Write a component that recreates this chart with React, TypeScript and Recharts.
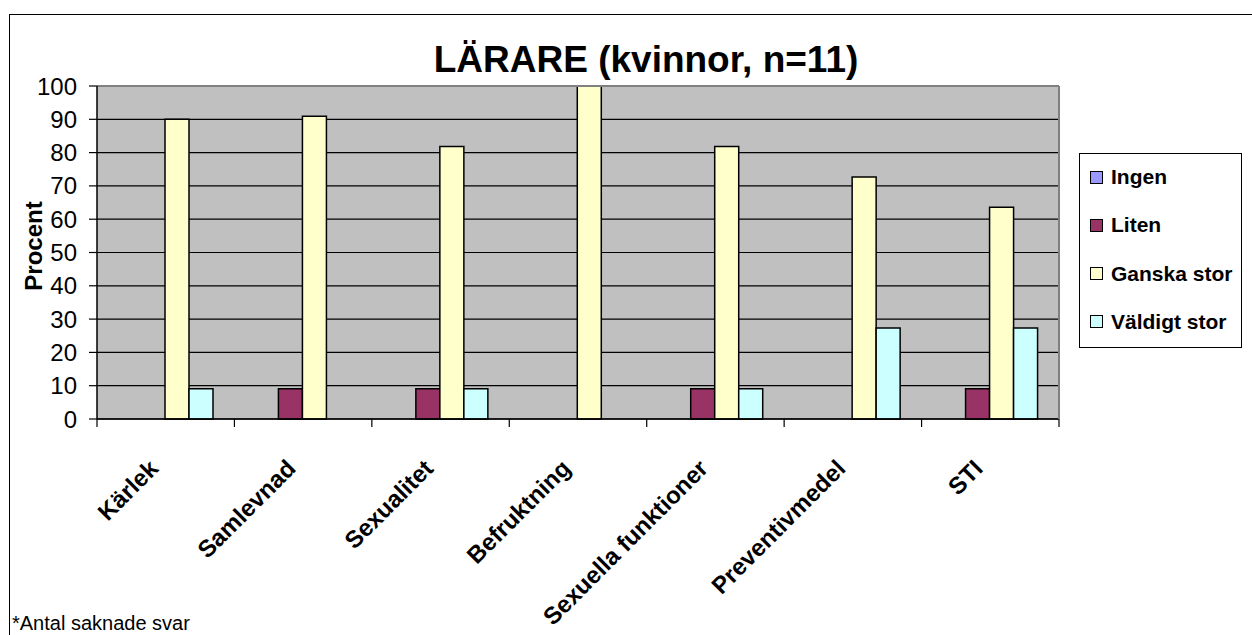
import { BarChart, Bar, XAxis, YAxis, CartesianGrid, Legend, ReferenceLine } from 'recharts';

const categories = ['Kärlek', 'Samlevnad', 'Sexualitet', 'Befruktning', 'Sexuella funktioner', 'Preventivmedel', 'STI'];

const ingen = [0, 0, 0, 0, 0, 0, 0];
const liten = [0, 9.09, 9.09, 0, 9.09, 0, 9.09];
const ganskaStor = [90, 90.9, 81.8, 100, 81.8, 72.7, 63.6];
const valdigtStor = [9.09, 0, 9.09, 0, 9.09, 27.3, 27.3];

const yTicks = [0, 10, 20, 30, 40, 50, 60, 70, 80, 90, 100];

const SERIES = [
    { key: 'Ingen', values: ingen, color: '#9999FF' },
    { key: 'Liten', values: liten, color: '#993366' },
    { key: 'Ganska stor', values: ganskaStor, color: '#FFFFCC' },
    { key: 'Väldigt stor', values: valdigtStor, color: '#CCFFFF' },
];

const data = categories.map((name, i) => {
    const row: Record<string, string | number> = { name };
    SERIES.forEach((s) => { row[s.key] = s.values[i]; });
    return row;
});

const FONT = '"Liberation Sans", Arial, Helvetica, sans-serif';

// category label plus tick marks at the band edges (Excel style)
const CategoryTick = (props: any) => {
    const { x, y, payload, index } = props;
    const half = payload?.offset ?? 0;
    const last = index === categories.length - 1;
    return (
        <g>
            <line x1={x - half} x2={x - half} y1={y} y2={y + 8} stroke="#000" strokeWidth={1.2} />
            {last && <line x1={x + half} x2={x + half} y1={y} y2={y + 8} stroke="#000" strokeWidth={1.2} />}
            <text
                transform={`translate(${x - 6}, ${y + 51}) rotate(-45)`}
                textAnchor="end"
                fontFamily={FONT}
                fontWeight="bold"
                fontSize={24}
                fill="#000"
            >
                {payload.value}
            </text>
        </g>
    );
};

const LegendBox = () => (
    <div style={{ position: 'relative', width: 163, height: 195, border: '1px solid #000', background: '#fff', boxSizing: 'border-box', fontFamily: FONT }}>
        {SERIES.map((s, i) => (
            <div key={s.key} style={{ position: 'absolute', left: 10, top: 10 + i * 48.3, height: 26, display: 'flex', alignItems: 'center' }}>
                <span style={{ width: 11, height: 11, background: s.color, border: '1px solid #000', display: 'inline-block', marginRight: 8 }} />
                <span style={{ fontSize: 21, fontWeight: 'bold', color: '#000', whiteSpace: 'nowrap' }}>{s.key}</span>
            </div>
        ))}
    </div>
);

export default function App() {
    return (
        <div style={{ position: 'absolute', left: 0, top: 0, width: 1252, height: 635, overflow: 'hidden', background: '#fff' }}>
            <div style={{ position: 'absolute', left: 9, top: 14, width: 1300, height: 700, border: '1.5px solid #000' }} />
            <BarChart
                width={1252}
                height={635}
                data={data}
                margin={{ top: 86, right: 193, bottom: 66, left: 37 }}
                barCategoryGap={20}
                barGap={0}
                style={{ position: 'absolute', left: 0, top: 0 }}
            >
                <CartesianGrid vertical={false} fill="#C0C0C0" fillOpacity={1} stroke="#000" strokeWidth={1.2} horizontalValues={yTicks.filter((v) => v < 100)} />
                <ReferenceLine y={100} stroke="#808080" strokeWidth={2} />
                <XAxis
                    dataKey="name"
                    interval={0}
                    height={150}
                    tickSize={0}
                    tickMargin={0}
                    tickLine={false}
                    axisLine={{ stroke: '#000', strokeWidth: 1.5 }}
                    tick={<CategoryTick />}
                />
                <YAxis
                    domain={[0, 100]}
                    ticks={yTicks}
                    width={60}
                    tickSize={8}
                    tickMargin={12}
                    axisLine={{ stroke: '#000', strokeWidth: 1.5 }}
                    tickLine={{ stroke: '#000', strokeWidth: 1.2 }}
                    tick={{ fill: '#000', fontSize: 24, fontFamily: FONT }}
                    label={{
                        content: () => (
                            <text transform="translate(42, 246) rotate(-90)" textAnchor="middle" fontFamily={FONT} fontWeight="bold" fontSize={24} fill="#000">
                                Procent
                            </text>
                        ),
                    }}
                />
                {SERIES.map((s) => (
                    <Bar key={s.key} dataKey={s.key} fill={s.color} stroke="#000" strokeWidth={1.5} isAnimationActive={false} />
                ))}
                <Legend
                    layout="horizontal"
                    verticalAlign="middle"
                    align="center"
                    content={() => <LegendBox />}
                    wrapperStyle={{ left: 1079, top: 153, width: 163, height: 195 }}
                />
            </BarChart>
            <svg width={1252} height={635} style={{ position: 'absolute', left: 0, top: 0, pointerEvents: 'none' }}>
                <line x1={1059} x2={1059} y1={86} y2={419} stroke="#808080" strokeWidth={2} />
                <text x={646} y={72} textAnchor="middle" fontFamily={FONT} fontWeight="bold" fontSize={37} fill="#000">
                    LÄRARE (kvinnor, n=11)
                </text>
                <text x={12} y={630} fontFamily={FONT} fontSize={20} fill="#000">
                    *Antal saknade svar
                </text>
            </svg>
        </div>
    );
}
